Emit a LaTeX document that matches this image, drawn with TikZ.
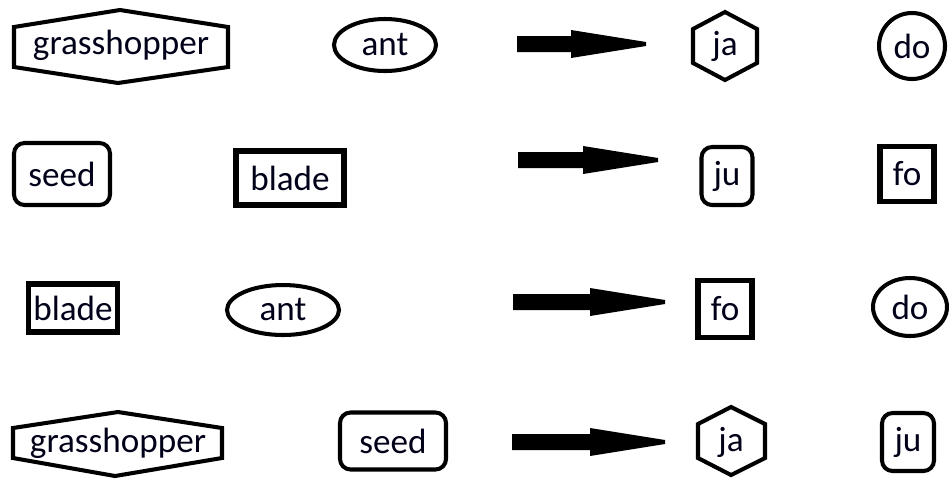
\documentclass[tikz,border=0pt]{standalone}
\usepackage{fontspec}
\setmainfont{Carlito}
\usetikzlibrary{shapes.geometric}
\def\fatarrow(#1,#2)(#3){\fill (#1,#2-8) -- (#3-75,#2-8) -- (#3-75,#2-14) -- (#3,#2-2) -- (#3,#2+2) -- (#3-75,#2+14) -- (#3-75,#2+8) -- (#1,#2+8) -- cycle;}
\tikzset{
	word/.style={font=\fontsize{20}{24}\selectfont, inner sep=0pt, text=black!90!blue},
	box/.style={word, draw, line width=2.3pt},
	roundbox/.style={box, rounded corners=6pt},
	oval/.style={box, ellipse},
}
\begin{document}
\begin{tikzpicture}[x=0.02cm, y=-0.02cm]
			%%%%% START %%%%%
			\useasboundingbox (0, 0) rectangle (949, 478);
			
			% row 1
			\draw[line width=2.3pt] (14, 27) -- (120, 10) -- (228, 27) -- (228, 67) -- (118, 83) -- (14, 67) -- cycle;
			\node[word] (gh1) at (121, 45) {grasshopper};
			\node[oval, minimum width=102*0.02cm, minimum height=52*0.02cm] (ant1) at (385, 45) {ant};
			\fatarrow(517,44)(646);
			\draw[line width=2.3pt] (725, 12) -- (757, 29) -- (757, 63) -- (725, 80) -- (693, 63) -- (693, 29) -- cycle;
			\node[word] (ja1) at (725, 46) {ja};
			\node[box, circle, minimum size=66*0.02cm] (do1) at (912, 46) {do};
			
			% row 2
			\node[roundbox, minimum width=96*0.02cm, minimum height=62*0.02cm] (seed1) at (62, 174) {seed};
			\node[box, line width=3.3pt, minimum width=108*0.02cm, minimum height=54*0.02cm] (blade1) at (290, 178) {blade};
			\fatarrow(518,160)(658);
			\node[roundbox, minimum width=51*0.02cm, minimum height=58*0.02cm] (ju1) at (727, 176) {ju};
			\node[box, line width=3.3pt, minimum width=54*0.02cm, minimum height=55*0.02cm] (fo1) at (907, 174) {fo};
			
			% row 3
			\node[box, line width=3.3pt, minimum width=89*0.02cm, minimum height=48*0.02cm] (blade2) at (73, 308) {blade};
			\node[oval, minimum width=112*0.02cm, minimum height=50*0.02cm] (ant2) at (283, 310) {ant};
			\fatarrow(513,302)(665);
			\node[box, line width=3.3pt, minimum width=54*0.02cm, minimum height=57*0.02cm] (fo2) at (725, 309) {fo};
			\node[oval, minimum width=74*0.02cm, minimum height=58*0.02cm] (do2) at (910, 307) {do};
			
			% row 4
			\draw[line width=2.3pt] (13, 428) -- (118, 412) -- (222, 428) -- (222, 458) -- (115, 476) -- (13, 458) -- cycle;
			\node[word] (gh2) at (118, 443) {grasshopper};
			\node[roundbox, minimum width=106*0.02cm, minimum height=57*0.02cm] (seed2) at (393, 441) {seed};
			\fatarrow(512,442)(665);
			\draw[line width=2.3pt] (731, 407) -- (765, 424) -- (765, 458) -- (731, 475) -- (698, 458) -- (698, 424) -- cycle;
			\node[word] (ja2) at (731, 442) {ja};
			\node[roundbox, minimum width=52*0.02cm, minimum height=58*0.02cm] (ju2) at (908, 442) {ju};
			
			%%%%% END %%%%%
\end{tikzpicture}
\end{document}
